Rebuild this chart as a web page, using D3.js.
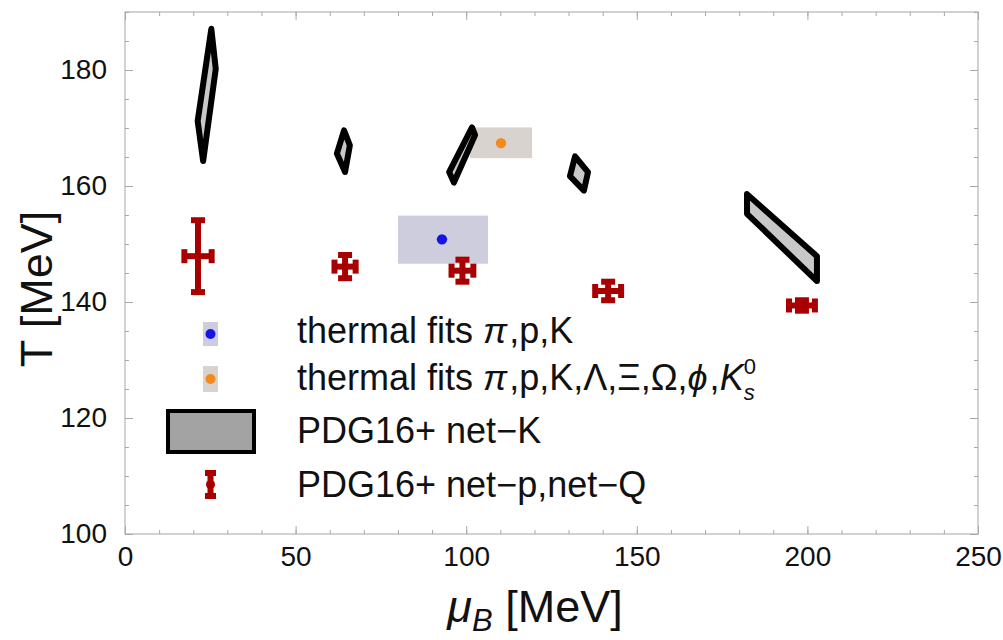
<!DOCTYPE html>
<html>
<head>
<meta charset="utf-8">
<script src="https://cdn.jsdelivr.net/npm/d3@7"></script>
<style>
  body { margin: 0; background: #fff; }
  svg { display: block; }
  text { font-family: "Liberation Sans", Arial, Helvetica, sans-serif; fill: #111; }
</style>
</head>
<body>
<svg id="chart" width="1003" height="640"></svg>
<script>
// ---- axis ticks ----
const xTickValues = [0, 50, 100, 150, 200, 250];
const yTickValues = [100, 120, 140, 160, 180];

// ---- thermal fits: central values and rectangular uncertainty ranges ----
const thermalNames = ["thermal fits π,p,K", "thermal fits π,p,K,Λ,Ξ,Ω,ϕ,K_s^0"];
const thermalMu = [92.9, 110.2];
const thermalT = [150.8, 167.4];
const thermalMuRange = [[80.0, 106.4], [101.1, 119.3]];
const thermalTRange = [[146.6, 154.9], [164.8, 170.1]];

// ---- PDG16+ net-K: allowed regions (muB, T) outlines ----
const netKRegions = [
  [[25.3, 187.1], [26.6, 180.2], [22.9, 164.3], [21.3, 171.2]],
  [[64.2, 169.6], [65.9, 167.0], [64.5, 162.4], [62.1, 165.6]],
  [[101.7, 170.1], [102.6, 168.8], [96.4, 160.6], [95.0, 162.4]],
  [[131.9, 165.1], [135.7, 162.4], [134.5, 159.2], [130.4, 161.7]],
  [[182.3, 158.6], [202.8, 147.9], [202.8, 143.6], [182.3, 155.2]]
];

// ---- PDG16+ net-p, net-Q: points with error bars ----
const netPMu = [21.4, 64.5, 98.9, 141.6, 198.4];
const netPT = [147.9, 146.1, 145.4, 141.9, 139.4];
const netPMuErr = [4.0, 3.1, 3.2, 3.8, 3.8];
const netPTErr = [6.2, 2.0, 1.9, 1.6, 0.9];

const svg = d3.select("#chart");
const x = d3.scaleLinear().domain([0, 250]).range([125, 978]);
const y = d3.scaleLinear().domain([100, 190]).range([534, 12]);

const boxFill = ["#cdcdde", "#d8d3ce"];
const dotFill = ["#1414e6", "#f28a1e"];
const red = "#a80000";

// frame
svg.append("rect")
  .attr("x", x(0)).attr("y", y(190))
  .attr("width", x(250) - x(0)).attr("height", y(100) - y(190))
  .attr("fill", "none").attr("stroke", "#b4b4b4").attr("stroke-width", 1.2);

function styleAxis(g) {
  g.select(".domain").remove();
  g.selectAll(".tick line").attr("stroke", "#a8a8a8").attr("stroke-width", 1);
  g.selectAll(".tick text").attr("font-size", 28).attr("fill", "#111");
}

const xMinor = d3.range(0, 251, 10);
const yMinor = d3.range(100, 191, 5);

// bottom
svg.append("g").attr("transform", `translate(0,${y(100)})`)
  .call(d3.axisBottom(x).tickValues(xMinor).tickSize(-4).tickFormat(""))
  .call(styleAxis);
svg.append("g").attr("transform", `translate(0,${y(100)})`)
  .call(d3.axisBottom(x).tickValues(xTickValues).tickSize(-8).tickPadding(12).tickFormat(d3.format("d")))
  .call(styleAxis);
// top
svg.append("g").attr("transform", `translate(0,${y(190)})`)
  .call(d3.axisTop(x).tickValues(xMinor).tickSize(-4).tickFormat(""))
  .call(styleAxis);
svg.append("g").attr("transform", `translate(0,${y(190)})`)
  .call(d3.axisTop(x).tickValues(xTickValues).tickSize(-8).tickFormat(""))
  .call(styleAxis);
// left
svg.append("g").attr("transform", `translate(${x(0)},0)`)
  .call(d3.axisLeft(y).tickValues(yMinor).tickSize(-4).tickFormat(""))
  .call(styleAxis);
svg.append("g").attr("transform", `translate(${x(0)},0)`)
  .call(d3.axisLeft(y).tickValues(yTickValues).tickSize(-8).tickPadding(18).tickFormat(d3.format("d")))
  .call(styleAxis);
// right
svg.append("g").attr("transform", `translate(${x(250)},0)`)
  .call(d3.axisRight(y).tickValues(yMinor).tickSize(-4).tickFormat(""))
  .call(styleAxis);
svg.append("g").attr("transform", `translate(${x(250)},0)`)
  .call(d3.axisRight(y).tickValues(yTickValues).tickSize(-8).tickFormat(""))
  .call(styleAxis);

// axis titles
const xt = svg.append("text").attr("x", 535).attr("y", 622)
  .attr("text-anchor", "middle").attr("font-size", 45);
xt.append("tspan").attr("font-style", "italic").text("μ");
xt.append("tspan").attr("font-style", "italic").attr("font-size", 31).attr("dy", 9).text("B");
xt.append("tspan").attr("dy", -9).text(" [MeV]");

svg.append("text")
  .attr("transform", `translate(52,${(y(100) + y(190)) / 2 + 16}) rotate(-90)`)
  .attr("text-anchor", "middle").attr("font-size", 45)
  .text("T [MeV]");

// thermal-fit uncertainty boxes
svg.append("g").selectAll("rect").data(thermalMu).join("rect")
  .attr("x", (d, i) => x(thermalMuRange[i][0]))
  .attr("width", (d, i) => x(thermalMuRange[i][1]) - x(thermalMuRange[i][0]))
  .attr("y", (d, i) => y(thermalTRange[i][1]))
  .attr("height", (d, i) => y(thermalTRange[i][0]) - y(thermalTRange[i][1]))
  .attr("fill", (d, i) => boxFill[i]);

// net-K regions
const regionLine = d3.line().x(d => x(d[0])).y(d => y(d[1]));
svg.append("g").selectAll("path").data(netKRegions).join("path")
  .attr("d", d => regionLine(d) + "Z")
  .attr("fill", "#c8c8c8").attr("stroke", "#000")
  .attr("stroke-width", 6).attr("stroke-linejoin", "round");

// net-p / net-Q error bars
const cap = 7;
const eb = svg.append("g").attr("stroke", red).attr("stroke-width", 6).attr("fill", "none");
netPMu.forEach((mu, i) => {
  const t = netPT[i], em = netPMuErr[i], et = netPTErr[i];
  const g = eb.append("g");
  g.append("line").attr("x1", x(mu)).attr("x2", x(mu)).attr("y1", y(t - et)).attr("y2", y(t + et));
  g.append("line").attr("x1", x(mu - em)).attr("x2", x(mu + em)).attr("y1", y(t)).attr("y2", y(t));
  [t - et, t + et].forEach(v => g.append("line")
    .attr("x1", x(mu) - cap).attr("x2", x(mu) + cap).attr("y1", y(v)).attr("y2", y(v)));
  [mu - em, mu + em].forEach(v => g.append("line")
    .attr("x1", x(v)).attr("x2", x(v)).attr("y1", y(t) - cap).attr("y2", y(t) + cap));
});
svg.append("g").selectAll("circle").data(netPMu).join("circle")
  .attr("cx", d => x(d)).attr("cy", (d, i) => y(netPT[i])).attr("r", 4).attr("fill", red);

// thermal-fit central values
svg.append("g").selectAll("circle").data(thermalMu).join("circle")
  .attr("cx", d => x(d)).attr("cy", (d, i) => y(thermalT[i])).attr("r", 5.2)
  .attr("fill", (d, i) => dotFill[i]);

// ---- legend ----
const lg = svg.append("g");
const textX = 297;
// row 1 & 2: thermal fits
[[322, 346, 334, 343], [366, 392, 379, 390]].forEach((r, i) => {
  lg.append("rect").attr("x", 203).attr("y", r[0]).attr("width", 15).attr("height", r[1] - r[0])
    .attr("fill", boxFill[i]);
  lg.append("circle").attr("cx", 210.5).attr("cy", r[2]).attr("r", 5).attr("fill", dotFill[i]);
});
const t1 = lg.append("text").attr("x", textX).attr("y", 343).attr("font-size", 36);
t1.append("tspan").text("thermal fits ");
t1.append("tspan").attr("font-style", "italic").text("π");
t1.append("tspan").attr("dx", 2).text(",p,K");

const t2 = lg.append("text").attr("x", textX).attr("y", 390).attr("font-size", 36);
t2.append("tspan").text("thermal fits ");
t2.append("tspan").attr("font-style", "italic").text("π");
t2.append("tspan").attr("dx", 2).text(",p,K,Λ,Ξ,Ω,");
t2.append("tspan").attr("font-style", "italic").text("ϕ");
t2.append("tspan").attr("dx", 2).text(",");
t2.append("tspan").attr("font-style", "italic").text("K");
t2.append("tspan").attr("font-style", "italic").attr("font-size", 22).attr("dy", 10).text("s");
t2.append("tspan").attr("font-size", 22).attr("dx", -11).attr("dy", -26).text("0");

// row 3: net-K
lg.append("rect").attr("x", 168).attr("y", 411).attr("width", 86).attr("height", 41)
  .attr("fill", "#a3a3a3").attr("stroke", "#000").attr("stroke-width", 4);
lg.append("text").attr("x", textX).attr("y", 443).attr("font-size", 36).text("PDG16+ net−K");

// row 4: net-p, net-Q
const li = lg.append("g").attr("stroke", red).attr("stroke-width", 6);
li.append("line").attr("x1", 210.5).attr("x2", 210.5).attr("y1", 473).attr("y2", 496);
li.append("line").attr("x1", 205).attr("x2", 216).attr("y1", 473).attr("y2", 473);
li.append("line").attr("x1", 205).attr("x2", 216).attr("y1", 496).attr("y2", 496);
lg.append("circle").attr("cx", 210.5).attr("cy", 484.5).attr("r", 4.5).attr("fill", red);
lg.append("text").attr("x", textX).attr("y", 497).attr("font-size", 36).text("PDG16+ net−p,net−Q");
</script>
</body>
</html>
